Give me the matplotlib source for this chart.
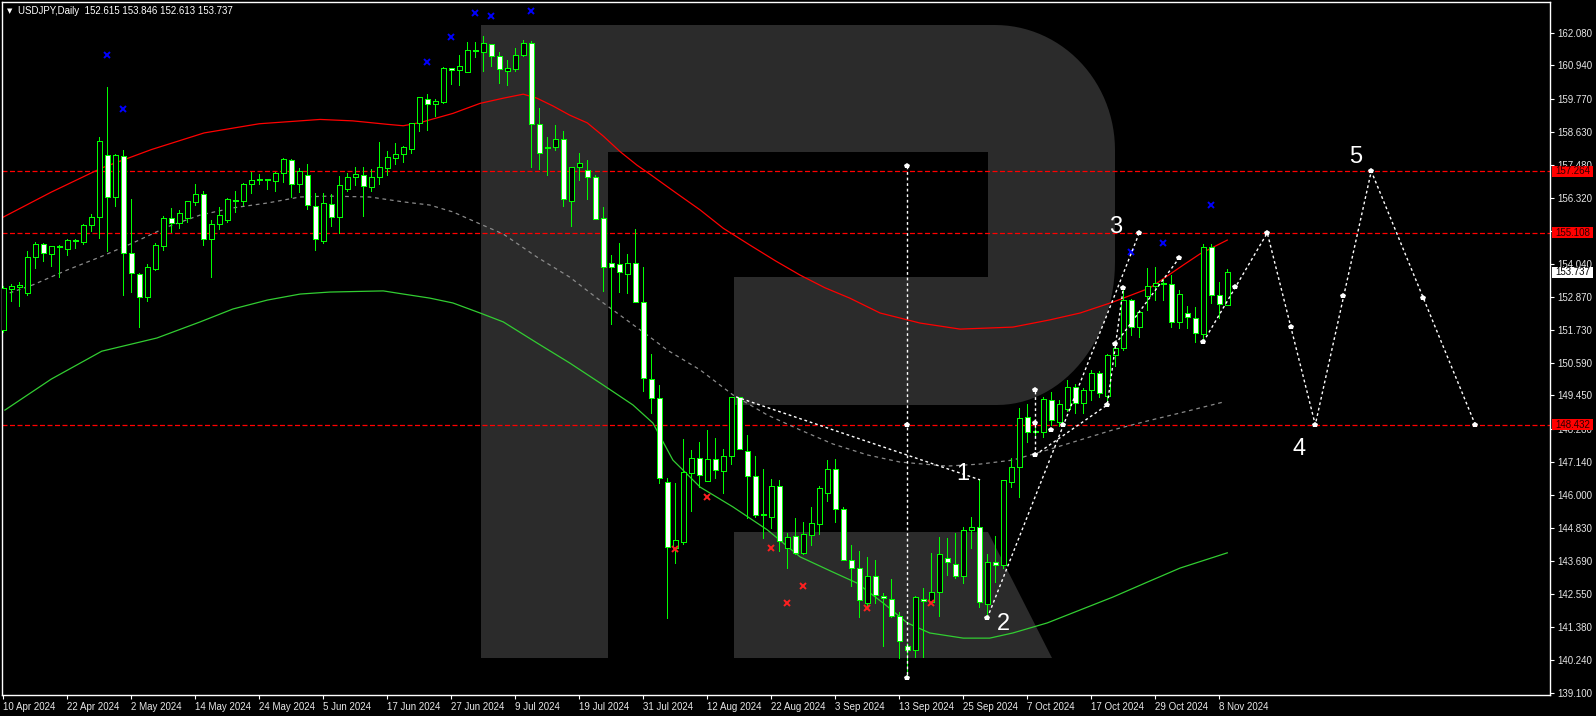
import matplotlib
matplotlib.use("Agg")
import matplotlib.pyplot as plt
import numpy as np
from matplotlib.patches import Rectangle, Polygon
from matplotlib.transforms import Affine2D, blended_transform_factory

plt.rcParams["font.family"] = ["Liberation Sans", "DejaVu Sans"]

# ---- data (daily USDJPY candles, bar index 0 = 10 Apr 2024) ----
opens = [151.73, 153.16, 153.23, 153.02, 154.27, 154.72, 154.38, 154.65, 154.55, 154.83,
         154.79, 155.38, 155.66, 157.82, 156.36, 157.79, 154.41, 153.68, 152.88, 153.85,
         154.65, 155.63, 155.45, 155.63, 156.19, 156.46, 154.90, 155.42, 155.56, 156.24,
         156.22, 156.81, 156.95, 156.96, 156.92, 157.20, 157.65, 156.81, 157.13, 156.05,
         154.83, 156.12, 155.66, 156.64, 157.06, 157.13, 156.71, 157.06, 157.37, 157.72,
         157.86, 158.03, 158.94, 159.77, 159.60, 159.67, 160.85, 160.78, 160.71, 161.45,
         161.41, 161.69, 161.27, 160.75, 160.82, 161.30, 161.72, 158.90, 158.08, 158.10,
         158.38, 156.22, 157.41, 157.30, 157.06, 155.63, 154.06, 154.03, 153.68, 154.06,
         152.70, 150.02, 149.36, 146.44, 144.14, 144.35, 146.75, 147.27, 146.47, 147.24,
         146.82, 147.34, 149.40, 147.52, 146.65, 145.31, 145.22, 146.30, 144.14, 144.56,
         143.96, 144.59, 144.98, 146.05, 146.89, 145.50, 143.72, 143.44, 142.22, 143.16,
         142.46, 142.36, 141.77, 140.73, 140.59, 142.36, 142.26, 142.61, 143.79, 143.58,
         143.16, 144.77, 144.87, 142.19, 143.65, 143.55, 146.44, 146.96, 148.70, 148.20,
         148.18, 149.29, 148.53, 148.98, 149.74, 149.19, 149.64, 150.23, 149.43, 150.86,
         151.10, 152.77, 151.83, 152.91, 153.26, 153.34, 153.33, 152.01, 152.32, 152.15,
         151.59, 154.62, 152.95, 152.615]
highs = [153.26, 153.33, 153.40, 154.48, 154.79, 154.76, 154.65, 154.69, 154.90, 154.90,
         155.42, 155.77, 158.45, 160.19, 157.86, 158.00, 156.29, 153.71, 154.03, 154.76,
         155.70, 155.98, 155.91, 156.22, 156.81, 156.57, 155.56, 156.01, 156.33, 156.57,
         156.83, 157.23, 157.16, 156.98, 157.23, 157.72, 157.68, 157.37, 157.51, 156.50,
         156.50, 156.46, 157.09, 157.20, 157.41, 157.41, 157.34, 158.27, 157.96, 158.24,
         158.14, 158.94, 159.84, 159.95, 159.77, 160.89, 160.85, 161.30, 161.76, 161.76,
         161.97, 161.69, 161.41, 161.13, 161.55, 161.83, 161.79, 159.46, 158.45, 158.87,
         158.66, 157.41, 157.89, 157.65, 157.13, 156.01, 154.34, 154.76, 154.38, 155.25,
         153.92, 150.89, 149.81, 146.58, 146.40, 147.93, 147.55, 147.83, 148.25, 147.97,
         147.58, 149.40, 149.40, 148.07, 147.34, 146.89, 146.54, 146.51, 144.66, 145.18,
         145.04, 145.57, 146.30, 147.20, 147.24, 145.57, 144.24, 144.03, 143.83, 143.72,
         142.57, 143.06, 141.91, 140.83, 142.47, 142.75, 143.97, 144.52, 144.49, 144.66,
         144.87, 145.22, 146.51, 143.93, 144.56, 146.51, 147.27, 149.01, 149.15, 148.42,
         149.40, 149.57, 149.29, 149.99, 149.85, 149.71, 150.34, 150.30, 150.89, 151.21,
         153.23, 152.81, 152.43, 153.89, 153.92, 153.50, 153.64, 153.12, 152.56, 152.53,
         154.72, 154.72, 153.40, 153.846]
lows = [151.66, 152.74, 152.56, 152.95, 153.89, 154.13, 153.96, 153.57, 154.34, 154.58,
        154.72, 155.18, 154.93, 154.48, 156.05, 152.95, 153.05, 151.83, 152.74, 153.82,
        154.51, 155.14, 155.28, 155.49, 156.08, 154.69, 153.57, 155.25, 155.49, 155.84,
        156.08, 156.50, 156.81, 156.64, 156.57, 156.88, 156.36, 156.53, 155.94, 154.51,
        154.76, 155.35, 155.11, 156.57, 156.78, 155.70, 156.57, 156.81, 157.13, 157.51,
        157.58, 157.89, 158.66, 158.69, 159.18, 159.63, 160.30, 160.26, 160.71, 161.23,
        160.75, 160.92, 160.33, 160.26, 160.75, 161.27, 157.41, 157.34, 157.13, 158.00,
        156.05, 155.35, 156.95, 156.29, 155.59, 153.09, 151.94, 153.05, 153.02, 152.70,
        149.61, 148.84, 146.40, 141.70, 143.62, 144.28, 145.43, 146.26, 146.47, 146.58,
        146.05, 147.06, 147.59, 145.18, 145.22, 144.49, 144.84, 144.03, 143.44, 143.93,
        143.93, 144.24, 144.63, 145.78, 145.04, 143.72, 142.81, 141.74, 142.05, 142.22,
        140.73, 141.74, 140.31, 139.61, 140.34, 140.34, 142.22, 141.77, 143.20, 143.09,
        142.92, 144.14, 142.08, 141.70, 142.95, 143.44, 146.26, 145.91, 147.83, 148.00,
        148.00, 148.42, 148.39, 148.91, 148.84, 148.84, 149.29, 149.40, 149.19, 150.48,
        151.03, 151.55, 151.48, 152.43, 152.77, 152.77, 151.83, 151.80, 151.80, 151.31,
        151.31, 152.67, 152.15, 152.613]
closes = [153.19, 153.26, 153.30, 154.27, 154.72, 154.41, 154.65, 154.63, 154.86, 154.85,
          155.38, 155.66, 158.31, 156.36, 157.82, 154.41, 153.71, 152.88, 153.92, 154.69,
          155.63, 155.45, 155.80, 156.22, 156.46, 154.90, 155.42, 155.73, 156.29, 156.22,
          156.81, 156.95, 156.98, 156.95, 157.20, 157.68, 156.81, 157.26, 156.08, 154.90,
          156.15, 155.66, 156.78, 157.06, 157.16, 156.74, 157.06, 157.41, 157.75, 157.86,
          158.10, 158.94, 159.84, 159.60, 159.70, 160.85, 160.78, 160.92, 161.48, 161.46,
          161.72, 161.27, 160.82, 160.85, 161.30, 161.72, 158.90, 157.89, 158.10, 158.38,
          156.29, 157.41, 157.54, 157.06, 155.59, 153.92, 153.92, 153.75, 154.06, 152.70,
          150.06, 149.36, 146.58, 144.17, 144.42, 146.78, 147.27, 146.68, 147.24, 146.85,
          147.34, 149.40, 147.59, 146.65, 145.29, 145.29, 146.30, 144.38, 144.52, 143.96,
          144.63, 145.01, 146.23, 146.89, 145.50, 143.72, 143.44, 142.33, 143.16, 142.50,
          142.40, 141.77, 140.90, 140.59, 142.43, 142.29, 142.61, 143.93, 143.65, 143.16,
          144.77, 144.87, 142.26, 143.65, 143.55, 146.51, 146.96, 148.66, 148.18, 148.18,
          149.33, 148.60, 149.15, 149.74, 149.19, 149.64, 150.23, 149.54, 150.86, 151.10,
          152.77, 151.83, 152.36, 153.26, 153.36, 153.33, 152.01, 152.98, 152.18, 151.62,
          154.62, 152.95, 152.63, 153.737]

date_labels = ["10 Apr 2024", "22 Apr 2024", "2 May 2024", "14 May 2024", "24 May 2024",
               "5 Jun 2024", "17 Jun 2024", "27 Jun 2024", "9 Jul 2024", "19 Jul 2024",
               "31 Jul 2024", "12 Aug 2024", "22 Aug 2024", "3 Sep 2024", "13 Sep 2024",
               "25 Sep 2024", "7 Oct 2024", "17 Oct 2024", "29 Oct 2024", "8 Nov 2024"]
date_bars = list(range(0, 160, 8))

price_ticks = [162.080, 160.940, 159.770, 158.630, 157.480, 156.320, 155.180, 154.040,
               152.870, 151.730, 150.590, 149.450, 148.280, 147.140, 146.000, 144.830,
               143.690, 142.550, 141.380, 140.240, 139.100]

level_prices = [157.264, 155.108, 148.432]
last_price = 153.737

# moving-average style lines (bar, price)
red_bars = [0, 6, 12.3, 18.5, 25.1, 32, 39.6, 43.7, 48, 50, 52.1, 56.2, 59.6, 62.5, 65, 66.7,
            68.7, 70.8, 73, 75, 77.1, 79.2, 80.8, 84, 87.1, 90, 93.3, 96.5, 99.6, 102.7,
            105.8, 109.6, 114.6, 119.6, 126.2, 130.8, 134.6, 138.7, 143.3, 147.5, 149.6, 153]
red_vals = [155.66, 156.53, 157.37, 158.01, 158.59, 158.91, 159.06, 159.01, 158.89, 158.84,
            158.95, 159.27, 159.62, 159.80, 159.94, 159.80, 159.53, 159.21, 158.94, 158.48,
            157.94, 157.47, 157.16, 156.52, 155.91, 155.27, 154.69, 154.14, 153.64, 153.20,
            152.84, 152.32, 151.97, 151.76, 151.83, 152.08, 152.32, 152.70, 153.19, 153.99,
            154.38, 154.86]
gray_bars = [0.8, 3.7, 8, 12.1, 16.2, 20.5, 24.6, 28.7, 33, 37.1, 40.8, 45.8, 50, 53.3, 56.2,
             59.6, 62.5, 66.7, 70.8, 75, 80.8, 83, 87.1, 91.2, 95.5, 99.6, 103.7, 108, 112.1,
             118, 122.1, 126.2, 130.5, 134.6, 138.7, 143, 147.1, 152.5]
gray_vals = [153.02, 153.30, 153.82, 154.27, 154.76, 155.32, 155.73, 155.98, 156.15, 156.36,
             156.39, 156.36, 156.19, 156.08, 155.84, 155.42, 155.07, 154.27, 153.57, 152.67,
             151.49, 151.03, 150.34, 149.47, 148.77, 148.25, 147.76, 147.38, 147.13, 146.99,
             147.06, 147.20, 147.55, 147.90, 148.25, 148.56, 148.84, 149.22]
green_bars = [0.2, 6, 12.3, 19.2, 24.6, 28.7, 33, 37.1, 40.8, 47.5, 50, 53.3, 56.2, 59.6, 62.5,
              66.7, 70.8, 75, 78.7, 81.2, 83.7, 87.1, 91.2, 95.5, 99.6, 103.7, 106.7, 110,
              113, 115.8, 120, 123.3, 126.2, 130.5, 134.6, 138.7, 143, 147.1, 153]
green_vals = [148.94, 150.02, 150.99, 151.45, 152.01, 152.46, 152.77, 152.98, 153.05, 153.09,
              152.98, 152.84, 152.67, 152.32, 152.01, 151.28, 150.58, 149.81, 149.12, 148.49,
              147.20, 146.26, 145.57, 144.77, 143.83, 143.30, 142.92, 142.22, 141.53, 141.18,
              141.00, 141.00, 141.18, 141.53, 141.98, 142.43, 142.95, 143.44, 143.97]

# fractal marks
up_fractal_bars = [13, 15, 53, 56, 59, 61, 66, 141, 145, 151]
up_fractal_vals = [161.32, 159.42, 161.07, 161.94, 162.78, 162.67, 162.85, 154.44, 154.76, 156.08]
down_fractal_bars = [84, 88, 96, 98, 100, 108, 116]
down_fractal_vals = [144.10, 145.91, 144.14, 142.22, 142.81, 142.05, 142.22]

# wave analysis overlay (bar, price)
wave_paths = [
    [(91.6, 149.40), (122.1, 146.51)],
    [(113, 157.45), (113, 139.61)],
    [(123, 141.70), (142, 155.11)],
    [(129, 147.38), (129, 149.64)],
    [(129, 147.38), (138, 149.12), (140, 153.19)],
    [(139, 151.23), (147, 154.24)],
    [(150, 151.31), (158, 155.11), (164, 148.43), (171, 157.26), (184, 148.43)],
]
wave_marks = [(113, 157.45), (113, 148.43), (113, 139.61), (123, 141.70), (132.5, 148.42),
              (142, 155.11), (129, 149.64), (129, 148.49), (129, 147.38), (131, 148.25),
              (138, 149.12), (139, 151.23), (140, 153.19), (147, 154.24), (150, 151.31),
              (154, 153.23), (158, 155.11), (161, 151.83), (164, 148.43), (167.5, 152.91),
              (171, 157.26), (177.5, 152.84), (184, 148.43)]
wave_labels = ["1", "2", "3", "4", "5"]
wave_label_pos = [(120, 146.72), (125, 141.49), (139.1, 155.32), (162, 147.59), (169.1, 157.75)]

# ---- figure ----
W, H = 1596, 716
fig = plt.figure(figsize=(W / 100, H / 100), dpi=100, facecolor="black")
ax = fig.add_axes([2 / W, (H - 695) / H, 1548 / W, 693 / H], facecolor="black")

ax.set_xlim(-0.1625, 193.34)
ax.set_ylim(139.020, 163.149)

# background logo, drawn in screen pixels of the panel
pix = Affine2D().scale(1 / 1548, -1 / 693).translate(-2 / 1548, 695 / 693) + ax.transAxes
logo = "#2b2b2b"
ax.add_patch(Rectangle((481, 25), 127, 633, transform=pix, color=logo, lw=0, zorder=0))
t1 = np.linspace(np.pi / 2, 0, 30)
t2 = np.linspace(0, -np.pi / 2, 30)
bowl = [(608, 25), (995, 25)]
bowl += list(zip(995 + 120 * np.cos(t1), 150 - 125 * np.sin(t1)))
bowl += list(zip(997 + 118 * np.cos(t2), 262 - 143 * np.sin(t2)))
bowl += [(734, 405), (734, 277), (988, 277), (988, 152), (608, 152)]
ax.add_patch(Polygon(bowl, closed=True, transform=pix, color=logo, lw=0, zorder=0))
ax.add_patch(Polygon([(734, 532), (988, 532), (1052, 658), (734, 658)], closed=True,
                     transform=pix, color=logo, lw=0, zorder=0))

# horizontal levels
for lv in level_prices:
    ax.axhline(lv, color="#ff0000", lw=0.9, linestyle=(0, (4, 2)), zorder=1)

# indicator lines
ax.plot(red_bars, red_vals, color="#ff0000", lw=0.9, zorder=2)
ax.plot(gray_bars, gray_vals, color="#8a8a8a", lw=0.9, linestyle=(0, (3, 3)), zorder=2)
ax.plot(green_bars, green_vals, color="#32cd32", lw=0.9, zorder=2)

# candles: hollow = up day, white = down day
green = "#00ff00"
idx = np.arange(len(opens))
ax.vlines(idx, lows, highs, color=green, lw=0.72, antialiased=False, zorder=3)
for i, (o, c) in enumerate(zip(opens, closes)):
    lo, hi = min(o, c), max(o, c)
    face = "black" if c >= o else "white"
    ax.add_patch(Rectangle((i - 0.3, lo), 0.6, max(hi - lo, 0.02), facecolor=face,
                           edgecolor=green, lw=0.72, antialiased=False, zorder=4))

# fractals
ax.plot(up_fractal_bars, up_fractal_vals, "x", color="#0000ff", ms=4, mew=1.4, zorder=5)
ax.plot(down_fractal_bars, down_fractal_vals, "x", color="#ff2020", ms=4, mew=1.4, zorder=5)

# wave overlay
for path in wave_paths:
    xs, ys = zip(*path)
    ax.plot(xs, ys, color="white", lw=1.0, linestyle=(0, (2, 2)), zorder=6)
mx, my = zip(*wave_marks)
ax.plot(mx, my, "p", color="white", ms=4, mew=0, zorder=7)
for lab, (bx, by) in zip(wave_labels, wave_label_pos):
    ax.text(bx, by, lab, color="white", fontsize=17, ha="center", va="center", zorder=8)

# axes styling
for sp in ax.spines.values():
    sp.set_color("white")
    sp.set_linewidth(1.0)
ax.yaxis.tick_right()
ax.set_yticks(price_ticks)
ax.set_yticklabels([f"{p:.3f}" for p in price_ticks])
ax.set_xticks(date_bars)
ax.set_xticklabels(date_labels)
for lab in ax.get_xticklabels():
    lab.set_ha("left")
ax.tick_params(axis="both", colors="white", labelcolor="#e6e6e6", labelsize=7,
               length=3, width=0.8, direction="out")
ax.tick_params(axis="x", pad=2)
ax.tick_params(axis="y", pad=2.5)

# price boxes on the right scale
bt = blended_transform_factory(fig.transFigure, ax.transData)
box_h = 11 / 28.72
for lv in level_prices:
    ax.add_patch(Rectangle((1552 / W, lv - box_h / 2), 41 / W, box_h, transform=bt,
                           color="#ff0000", lw=0, clip_on=False, zorder=10))
    ax.text(1555 / W, lv, f"{lv:.3f}", transform=bt, color="#2a0000", fontsize=7,
            va="center", ha="left", clip_on=False, zorder=11)
ax.add_patch(Rectangle((1552 / W, last_price - box_h / 2), 41 / W, box_h, transform=bt,
                       color="white", lw=0, clip_on=False, zorder=10))
ax.text(1555 / W, last_price, f"{last_price:.3f}", transform=bt, color="black", fontsize=7,
        va="center", ha="left", clip_on=False, zorder=11)

# title
fig.text(7 / W, 1 - 11 / H, "\u25bc", color="white", fontsize=5, family="DejaVu Sans",
         va="center", ha="left")
fig.text(18 / W, 1 - 11 / H, "USDJPY,Daily  152.615 153.846 152.613 153.737",
         color="white", fontsize=7, va="center", ha="left")

fig.savefig("out.png", dpi=100, facecolor="black")
